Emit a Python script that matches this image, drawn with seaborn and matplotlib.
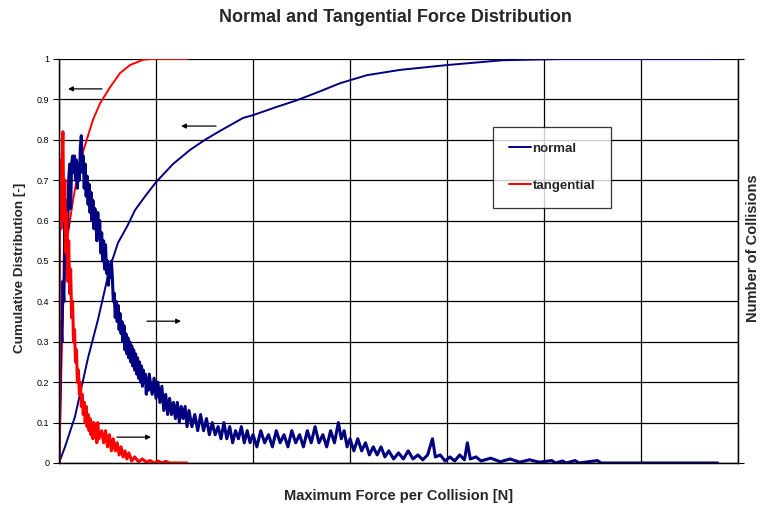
import matplotlib
matplotlib.use("Agg")
import matplotlib.pyplot as plt
import seaborn as sns
import numpy as np
import pandas as pd

# ---------------- data ----------------
# Cumulative distributions (left axis)
normal_cdf_force = [0, 6.2, 16.5, 29.9, 40.2, 46.4, 52.6, 60.8, 70.1, 78.4, 88.7, 100, 117.5,
                    135.1, 150.5, 166, 189.7, 200, 222.7, 245.4, 269.1, 289.7, 317.5, 351.5,
                    400, 457.7, 516.5, 679.4]
normal_cdf = [0, 0.04, 0.115, 0.26, 0.355, 0.42, 0.485, 0.545, 0.585, 0.626, 0.66, 0.695, 0.74,
              0.775, 0.80, 0.822, 0.854, 0.861, 0.88, 0.898, 0.92, 0.94, 0.96, 0.973,
              0.985, 0.997, 1.0, 1.0]

tangential_cdf_force = [0, 1, 2.1, 3.1, 4.1, 6.2, 8.2, 11.3, 14.4, 18.6, 24.7, 35.1, 42.3,
                        52.6, 62.9, 73.2, 86.6, 93.8, 132]
tangential_cdf = [0, 0.1, 0.2, 0.3, 0.38, 0.48, 0.55, 0.6, 0.65, 0.705, 0.77, 0.85, 0.89,
                  0.93, 0.965, 0.985, 0.998, 1.0, 1.0]

# Number of collisions (right axis, relative scale)
normal_count_force = list(range(0, 94)) + [
    96, 98, 100, 102, 104, 106, 108, 110, 112, 114, 116, 118, 120, 122, 124, 126, 128, 130,
    132, 134, 137, 140, 143, 146, 149, 152, 155, 158, 161, 164, 167, 170, 173, 176, 179, 182,
    185, 188, 191, 194, 197, 200, 204, 208, 212, 216, 220, 224, 228, 232, 236, 240, 244, 248,
    252, 256, 260, 264, 268, 272, 276, 280, 284, 288, 291, 294, 297, 300, 304, 308, 312, 316,
    320, 324, 328, 332, 336, 340, 345, 350, 355, 360, 365, 370, 375, 380, 385, 388, 393, 398,
    403, 408, 413, 418, 421, 424, 430, 435, 445, 455, 465, 475, 485, 495, 508, 512, 519, 523,
    532, 536, 555, 559, 679]
normal_count = [
    0, 0.15, 0.35, 0.3, 0.45, 0.4, 0.6, 0.5, 0.65, 0.58, 0.7, 0.74, 0.63, 0.74, 0.76, 0.72,
    0.76, 0.7, 0.75, 0.68, 0.74, 0.7, 0.78, 0.81, 0.72, 0.76, 0.68, 0.74, 0.66, 0.71, 0.64,
    0.69, 0.62, 0.67, 0.6, 0.65, 0.58, 0.63, 0.6, 0.55, 0.62, 0.57, 0.6, 0.52, 0.57, 0.5,
    0.55, 0.48, 0.54, 0.47, 0.5, 0.44, 0.49, 0.46, 0.5, 0.46, 0.4, 0.42, 0.36, 0.4, 0.35,
    0.39, 0.33, 0.37, 0.32, 0.35, 0.3, 0.34, 0.28, 0.32, 0.27, 0.31, 0.26, 0.3, 0.25, 0.29,
    0.24, 0.28, 0.23, 0.27, 0.22, 0.26, 0.21, 0.25, 0.2, 0.24, 0.19, 0.23, 0.2, 0.22, 0.17,
    0.21, 0.18, 0.22,
    0.17, 0.21, 0.16, 0.2, 0.15, 0.19, 0.13, 0.17, 0.12, 0.16, 0.12, 0.15, 0.11, 0.15, 0.1,
    0.14, 0.11, 0.14, 0.09, 0.13, 0.09, 0.12, 0.08, 0.12, 0.08, 0.11, 0.07, 0.1, 0.07, 0.09,
    0.06, 0.1, 0.06, 0.09, 0.05, 0.08, 0.06, 0.09, 0.05, 0.08, 0.05, 0.07, 0.04, 0.08, 0.05,
    0.07, 0.04, 0.08, 0.05, 0.07, 0.04, 0.08, 0.05, 0.07, 0.04, 0.08, 0.05, 0.09, 0.05, 0.07,
    0.04, 0.08, 0.05, 0.1, 0.06, 0.08, 0.04, 0.06, 0.03, 0.06, 0.03, 0.05, 0.02, 0.04, 0.02,
    0.04, 0.015, 0.03, 0.01, 0.025, 0.01, 0.03, 0.01, 0.02, 0.008, 0.02, 0.06, 0.015, 0.02,
    0.005, 0.015, 0.005, 0.02, 0.008, 0.05, 0.01, 0.015, 0.005, 0.012, 0.003, 0.01, 0.002,
    0.008, 0.002, 0.006, 0, 0.005, 0, 0.006, 0, 0.006, 0, 0]

tangential_count_force = [0, 0.5] + list(range(1, 42)) + [
    44, 46, 48, 50, 52, 54, 56, 58, 60, 62, 64, 66, 68, 70, 72, 75, 78, 82, 86, 90, 94, 98,
    102, 106, 110, 114, 132]
tangential_count = [
    0, 0.62, 0.75, 0.58, 0.72, 0.82, 0.6, 0.7, 0.52, 0.62, 0.45, 0.55, 0.42, 0.48, 0.36, 0.4,
    0.3, 0.33, 0.25, 0.28, 0.2, 0.23, 0.17, 0.2, 0.14, 0.17, 0.12, 0.15, 0.1, 0.14, 0.09,
    0.12, 0.08, 0.11, 0.07, 0.1, 0.06, 0.1, 0.07, 0.09, 0.05, 0.1, 0.06,
    0.08, 0.05, 0.08, 0.04, 0.07, 0.03, 0.06, 0.03, 0.05, 0.02, 0.04, 0.015, 0.03, 0.01,
    0.025, 0.005, 0.015, 0.003, 0.01, 0.002, 0.006, 0, 0.005, 0, 0.004, 0, 0]

y_ticks = [0, 0.1, 0.2, 0.3, 0.4, 0.5, 0.6, 0.7, 0.8, 0.9, 1]
y_tick_labels = ["0", "0.1", "0.2", "0.3", "0.4", "0.5", "0.6", "0.7", "0.8", "0.9", "1"]
x_grid = [0, 100, 200, 300, 400, 500, 600, 700]

# ---------------- style ----------------
sns.set_style("white")
plt.rcParams["font.family"] = ["Liberation Sans", "DejaVu Sans"]

NAVY = "#000080"
RED = "#FF0000"

fig = plt.figure(figsize=(7.61, 5.07), dpi=100)
ax = fig.add_axes([59 / 761, 1 - 463 / 507, (738 - 59) / 761, (463 - 59) / 507])
ax2 = ax.twinx()

cdf_n = pd.DataFrame({"force": normal_cdf_force, "value": normal_cdf})
cdf_t = pd.DataFrame({"force": tangential_cdf_force, "value": tangential_cdf})
cnt_n = pd.DataFrame({"force": normal_count_force, "value": normal_count})
cnt_t = pd.DataFrame({"force": tangential_count_force, "value": tangential_count})

sns.lineplot(data=cdf_n, x="force", y="value", ax=ax, color=NAVY, lw=1.4, sort=False,
             estimator=None)
sns.lineplot(data=cdf_t, x="force", y="value", ax=ax, color=RED, lw=1.4, sort=False,
             estimator=None)
sns.lineplot(data=cnt_n, x="force", y="value", ax=ax2, color=NAVY, lw=2.2, sort=False,
             estimator=None, label="normal")
sns.lineplot(data=cnt_t, x="force", y="value", ax=ax2, color=RED, lw=2.2, sort=False,
             estimator=None, label="tangential")

for a in (ax, ax2):
    a.set_xlim(0, 700)
    a.set_ylim(0, 1)

ax.set_xticks(x_grid)
ax.set_xticklabels([])
ax.set_yticks(y_ticks)
ax.set_yticklabels(y_tick_labels, fontsize=6.5)
ax.grid(True, color="black", lw=0.9)
ax.set_axisbelow(True)
ax.tick_params(axis="y", direction="out", length=4, width=0.8, colors="black", pad=3)
ax.tick_params(axis="x", direction="out", length=4, width=0.8, colors="black")
ax2.set_yticks([0, 1])
ax2.set_yticklabels([])
ax2.tick_params(axis="y", direction="out", length=4, width=0.8, colors="black")

for a in (ax, ax2):
    a.spines["top"].set_visible(False)
    for s in ("left", "bottom", "right"):
        a.spines[s].set_color("black")
        a.spines[s].set_linewidth(0.9)
ax.axhline(1, color="#b0b0b0", lw=1.2, zorder=0.5)

ax.set_xlabel("")
ax.set_ylabel("")
ax2.set_ylabel("")
fig.text(399 / 761, 1 - 496 / 507, "Maximum Force per Collision [N]", fontsize=10.5,
         fontweight="bold", ha="center", va="center")
fig.text(20 / 761, 1 - 268 / 507, "Cumulative Distribution [-]", rotation=90, fontsize=9.7,
         fontweight="bold", ha="center", va="center")
fig.text(753 / 761, 1 - 248 / 507, "Number of Collisions", rotation=90, fontsize=10.5,
         fontweight="bold", ha="center", va="center")
fig.text(395 / 761, 1 - 18 / 507, "Normal and Tangential Force Distribution",
         fontsize=13, fontweight="bold", ha="center", va="center")

# arrows
arrow_kw = dict(arrowstyle="-|>", color="black", lw=0.9, mutation_scale=7,
                shrinkA=0, shrinkB=0)
ax.annotate("", xy=(9.3, 0.926), xytext=(44.3, 0.926), arrowprops=arrow_kw)
ax.annotate("", xy=(125.8, 0.834), xytext=(161.9, 0.834), arrowprops=arrow_kw)
ax.annotate("", xy=(125.8, 0.351), xytext=(90.7, 0.351), arrowprops=arrow_kw)
ax.annotate("", xy=(94.8, 0.064), xytext=(59.8, 0.064), arrowprops=arrow_kw)

# legend
leg = ax2.legend(loc="upper left", bbox_to_anchor=((493 - 59) / 679, (463 - 127) / 404),
                 frameon=True, fancybox=False, shadow=False, fontsize=9.5,
                 handlelength=1.7, handletextpad=0.1, labelspacing=1.85,
                 borderpad=1.2, borderaxespad=0)
leg.get_frame().set_edgecolor("black")
leg.get_frame().set_linewidth(0.9)
for t in leg.get_texts():
    t.set_fontweight("bold")
for l in leg.get_lines():
    l.set_linewidth(1.4)

fig.savefig("out.png", dpi=100)
